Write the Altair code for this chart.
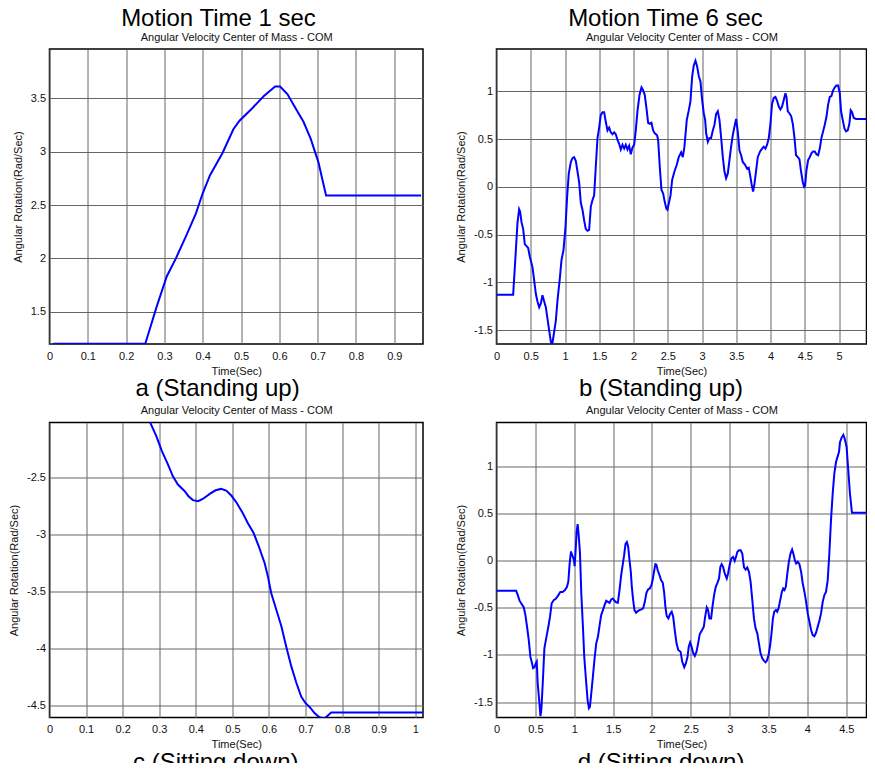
import altair as alt
import pandas as pd

FONT = "Liberation Sans"
BLUE = "#0000ff"

# ---------------- panel a : Motion Time 1 sec, standing up ----------------
a_t = [0.01, 0.25, 0.28, 0.306, 0.33, 0.359, 0.382, 0.40, 0.419, 0.452, 0.48, 0.496,
       0.53, 0.559, 0.589, 0.602, 0.621, 0.637, 0.663, 0.682, 0.702, 0.722, 0.97]
a_v = [1.2, 1.2, 1.55, 1.83, 2.0, 2.23, 2.42, 2.61, 2.78, 2.99, 3.21, 3.29,
       3.41, 3.52, 3.61, 3.61, 3.54, 3.44, 3.28, 3.12, 2.90, 2.59, 2.59]

# ---------------- panel b : Motion Time 6 sec, standing up ----------------
b_t = [0, 0.243, 0.277, 0.306, 0.33, 0.345, 0.365, 0.389, 0.413, 0.438, 0.462, 0.486,
       0.525, 0.55, 0.574, 0.598, 0.623, 0.647, 0.671, 0.696, 0.72, 0.744, 0.768, 0.793,
       0.812, 0.837, 0.866, 0.89, 0.924, 0.948, 0.978, 1.007, 1.031, 1.055, 1.085, 1.109,
       1.133, 1.158, 1.182, 1.206, 1.231, 1.255, 1.279, 1.303, 1.328, 1.352, 1.376, 1.40,
       1.425, 1.449, 1.474, 1.498, 1.522, 1.547, 1.571, 1.595, 1.62, 1.644, 1.668, 1.693,
       1.717, 1.741, 1.766, 1.79, 1.814, 1.839, 1.863, 1.887, 1.911, 1.936, 1.96, 1.984,
       2.009, 2.033, 2.057, 2.087, 2.116, 2.14, 2.164, 2.189, 2.213, 2.237, 2.262, 2.286,
       2.31, 2.344, 2.359, 2.383, 2.407, 2.432, 2.456, 2.48, 2.495, 2.54, 2.563, 2.597,
       2.631, 2.66, 2.695, 2.719, 2.743, 2.777, 2.806, 2.83, 2.855, 2.879, 2.904, 2.928,
       2.952, 2.977, 3.001, 3.025, 3.045, 3.06, 3.084, 3.108, 3.132, 3.157, 3.181, 3.205,
       3.23, 3.254, 3.278, 3.303, 3.327, 3.351, 3.376, 3.40, 3.424, 3.448, 3.473, 3.497,
       3.521, 3.546, 3.57, 3.594, 3.628, 3.657, 3.682, 3.706, 3.73, 3.745, 3.765, 3.789,
       3.813, 3.847, 3.876, 3.90, 3.925, 3.949, 3.974, 3.998, 4.022, 4.047, 4.071, 4.095,
       4.12, 4.144, 4.168, 4.193, 4.217, 4.232, 4.251, 4.275, 4.30, 4.324, 4.348, 4.372,
       4.397, 4.421, 4.445, 4.47, 4.489, 4.504, 4.523, 4.548, 4.572, 4.596, 4.621, 4.645,
       4.669, 4.694, 4.718, 4.742, 4.767, 4.791, 4.815, 4.84, 4.864, 4.888, 4.913, 4.937,
       4.961, 4.986, 5.01, 5.029, 5.053, 5.078, 5.102, 5.126, 5.15, 5.17, 5.19, 5.214,
       5.248, 5.48]
b_v = [-1.13, -1.13, -0.73, -0.38, -0.234, -0.26, -0.37, -0.44, -0.60, -0.62, -0.64, -0.73,
       -0.84, -0.98, -1.12, -1.20, -1.26, -1.22, -1.135, -1.20, -1.26, -1.38, -1.50, -1.62,
       -1.65, -1.54, -1.40, -1.19, -0.96, -0.77, -0.66, -0.42, -0.10, 0.14, 0.26, 0.30,
       0.31, 0.27, 0.16, 0.05, -0.17, -0.24, -0.35, -0.44, -0.46, -0.45, -0.21, -0.14,
       -0.09, 0.21, 0.51, 0.62, 0.75, 0.78, 0.78, 0.68, 0.59, 0.62, 0.57, 0.55,
       0.57, 0.55, 0.49, 0.45, 0.39, 0.44, 0.40, 0.44, 0.39, 0.43, 0.34, 0.41,
       0.44, 0.59, 0.79, 0.96, 1.04, 1.01, 0.96, 0.82, 0.67, 0.66, 0.67, 0.59,
       0.56, 0.54, 0.49, 0.21, -0.03, -0.07, -0.16, -0.23, -0.24, -0.09, 0.07, 0.16,
       0.23, 0.31, 0.36, 0.31, 0.42, 0.70, 0.80, 0.89, 1.15, 1.27, 1.32, 1.26,
       1.16, 1.10, 0.91, 0.77, 0.70, 0.56, 0.47, 0.51, 0.51, 0.59, 0.65, 0.76,
       0.79, 0.70, 0.52, 0.31, 0.16, 0.09, 0.14, 0.28, 0.42, 0.54, 0.63, 0.71,
       0.58, 0.38, 0.33, 0.26, 0.23, 0.19, 0.20, 0.10, 0.0, -0.05, 0.03, 0.17,
       0.31, 0.37, 0.40, 0.42, 0.40, 0.44, 0.51, 0.66, 0.87, 0.93, 0.94, 0.90,
       0.84, 0.81, 0.84, 0.91, 0.98, 0.94, 0.79, 0.77, 0.74, 0.66, 0.52, 0.33,
       0.31, 0.29, 0.16, 0.05, 0.0, 0.01, 0.17, 0.28, 0.31, 0.35, 0.37, 0.37,
       0.34, 0.33, 0.40, 0.51, 0.58, 0.65, 0.73, 0.86, 0.94, 0.95, 1.01, 1.04,
       1.06, 1.06, 0.98, 0.79, 0.70, 0.61, 0.58, 0.59, 0.66, 0.80, 0.78, 0.72,
       0.71, 0.71]

# ---------------- panel c : sitting down (1 sec) ----------------
c_t = [0.275, 0.292, 0.307, 0.324, 0.337, 0.351, 0.369, 0.38, 0.392, 0.406, 0.419, 0.438,
       0.454, 0.469, 0.483, 0.497, 0.512, 0.527, 0.542, 0.558, 0.572, 0.588, 0.597, 0.606,
       0.62, 0.634, 0.647, 0.661, 0.675, 0.688, 0.70, 0.711, 0.725, 0.738, 0.752, 0.77,
       1.02]
c_v = [-2.02, -2.14, -2.27, -2.39, -2.49, -2.564, -2.62, -2.666, -2.70, -2.71, -2.69, -2.646,
       -2.614, -2.602, -2.617, -2.66, -2.725, -2.807, -2.90, -2.988, -3.104, -3.25, -3.367, -3.513,
       -3.659, -3.805, -3.98, -4.155, -4.30, -4.418, -4.477, -4.51, -4.565, -4.60, -4.61, -4.558,
       -4.558]

# ---------------- panel d : sitting down (longer) ----------------
d_t = [0, 0.252, 0.274, 0.295, 0.325, 0.351, 0.372, 0.393, 0.415, 0.436, 0.458, 0.47,
       0.488, 0.505, 0.518, 0.53, 0.552, 0.565, 0.577, 0.595, 0.616, 0.642, 0.667, 0.689,
       0.71, 0.736, 0.766, 0.796, 0.821, 0.851, 0.881, 0.907, 0.924, 0.941, 0.958, 0.975,
       0.997, 1.005, 1.018, 1.031, 1.044, 1.056, 1.074, 1.091, 1.112, 1.129, 1.151, 1.172,
       1.189, 1.202, 1.219, 1.24, 1.262, 1.283, 1.305, 1.33, 1.347, 1.369, 1.39, 1.411,
       1.433, 1.454, 1.476, 1.497, 1.518, 1.54, 1.561, 1.583, 1.604, 1.625, 1.642, 1.66,
       1.677, 1.694, 1.711, 1.728, 1.741, 1.758, 1.775, 1.796, 1.818, 1.839, 1.865, 1.886,
       1.908, 1.929, 1.95, 1.972, 1.993, 2.01, 2.027, 2.044, 2.057, 2.074, 2.096, 2.117,
       2.139, 2.156, 2.173, 2.19, 2.211, 2.233, 2.254, 2.273, 2.295, 2.316, 2.338, 2.368,
       2.389, 2.415, 2.436, 2.457, 2.474, 2.491, 2.509, 2.53, 2.551, 2.573, 2.594, 2.615,
       2.645, 2.667, 2.684, 2.705, 2.722, 2.739, 2.761, 2.778, 2.799, 2.821, 2.842, 2.863,
       2.88, 2.897, 2.915, 2.936, 2.962, 2.979, 3.0, 3.021, 3.043, 3.064, 3.081, 3.098,
       3.12, 3.141, 3.162, 3.184, 3.205, 3.226, 3.248, 3.269, 3.291, 3.312, 3.333, 3.355,
       3.376, 3.397, 3.419, 3.44, 3.462, 3.479, 3.5, 3.521, 3.538, 3.556, 3.573, 3.594,
       3.611, 3.628, 3.65, 3.671, 3.688, 3.705, 3.722, 3.739, 3.761, 3.782, 3.803, 3.821,
       3.838, 3.855, 3.876, 3.897, 3.919, 3.94, 3.962, 3.983, 4.004, 4.026, 4.047, 4.068,
       4.09, 4.111, 4.132, 4.154, 4.175, 4.197, 4.218, 4.239, 4.261, 4.282, 4.303, 4.325,
       4.346, 4.368, 4.389, 4.406, 4.419, 4.44, 4.462, 4.479, 4.504, 4.526, 4.547, 4.573,
       4.838]
d_v = [-0.318, -0.318, -0.364, -0.42, -0.46, -0.495, -0.576, -0.70, -0.84, -1.02, -1.09, -1.14,
       -1.13, -1.09, -1.07, -1.30, -1.51, -1.65, -1.58, -1.30, -0.93, -0.81, -0.70, -0.59,
       -0.45, -0.417, -0.40, -0.364, -0.33, -0.33, -0.31, -0.276, -0.22, -0.03, 0.10, 0.06,
       0.007, -0.057, 0.11, 0.31, 0.39, 0.29, 0.08, -0.35, -0.70, -1.02, -1.26, -1.48,
       -1.565, -1.55, -1.41, -1.23, -1.035, -0.876, -0.806, -0.664, -0.576, -0.523, -0.47, -0.424,
       -0.435, -0.445, -0.41, -0.40, -0.424, -0.44, -0.445, -0.31, -0.15, -0.035, 0.06, 0.18,
       0.20, 0.15, 0.007, -0.117, -0.276, -0.417, -0.523, -0.55, -0.534, -0.523, -0.516, -0.505,
       -0.435, -0.34, -0.304, -0.293, -0.258, -0.198, -0.11, -0.035, -0.04, -0.10, -0.15, -0.205,
       -0.233, -0.33, -0.488, -0.587, -0.611, -0.565, -0.54, -0.594, -0.75, -0.876, -0.947, -0.965,
       -1.07, -1.13, -1.09, -1.02, -0.91, -0.866, -0.91, -0.98, -1.01, -0.965, -0.876, -0.777,
       -0.735, -0.70, -0.594, -0.495, -0.523, -0.611, -0.611, -0.488, -0.364, -0.276, -0.233, -0.187,
       -0.064, -0.035, -0.064, -0.134, -0.187, -0.134, -0.04, 0.025, 0.042, 0.0, 0.042, 0.095,
       0.113, 0.113, 0.078, -0.07, -0.092, -0.07, -0.117, -0.223, -0.417, -0.611, -0.717, -0.77,
       -0.876, -0.982, -1.035, -1.06, -1.078, -1.06, -1.0, -0.894, -0.77, -0.611, -0.54, -0.523,
       -0.54, -0.505, -0.417, -0.33, -0.293, -0.31, -0.276, -0.152, -0.01, 0.078, 0.12, 0.07,
       0.007, -0.028, -0.01, -0.035, -0.117, -0.24, -0.33, -0.435, -0.558, -0.646, -0.735, -0.788,
       -0.80, -0.763, -0.70, -0.636, -0.558, -0.435, -0.364, -0.33, -0.205, 0.078, 0.43, 0.714,
       0.926, 1.05, 1.11, 1.155, 1.26, 1.31, 1.34, 1.30, 1.21, 0.96, 0.714, 0.51,
       0.51]

# ---------------- axes: domains and tick values ----------------
a_xdom, a_ydom = [0, 0.975], [1.197, 3.9625]
b_xdom, b_ydom = [0, 5.40], [-1.645, 1.442]
c_xdom, c_ydom = [0, 1.021], [-4.602, -2.021]
d_xdom, d_ydom = [0, 4.76], [-1.664, 1.47]

a_xticks = [0, 0.1, 0.2, 0.3, 0.4, 0.5, 0.6, 0.7, 0.8, 0.9]
a_yticks = [1.5, 2, 2.5, 3, 3.5]
b_xticks = [0, 0.5, 1, 1.5, 2, 2.5, 3, 3.5, 4, 4.5, 5]
b_yticks = [-1.5, -1, -0.5, 0, 0.5, 1]
c_xticks = [0, 0.1, 0.2, 0.3, 0.4, 0.5, 0.6, 0.7, 0.8, 0.9, 1]
c_yticks = [-4.5, -4, -3.5, -3, -2.5]
d_xticks = [0, 0.5, 1, 1.5, 2, 2.5, 3, 3.5, 4, 4.5]
d_yticks = [-1.5, -1, -0.5, 0, 0.5, 1]

SUBTITLE = "Angular Velocity Center of Mass - COM"
XTITLE = "Time(Sec)"
YTITLE = "Angular Rotation(Rad/Sec)"

LABEL_EXPR = "replace(datum.label, '\u2212', '-')"


def panel(t, v, xdom, ydom, xticks, yticks, width, caption, cap_offset, motion=None):
    df = pd.DataFrame({"t": t, "v": v})
    base = alt.Chart(df)
    xs = alt.Scale(domain=xdom, nice=False, zero=False)
    ys = alt.Scale(domain=ydom, nice=False, zero=False)
    grid = dict(grid=True, gridColor="#666666", gridWidth=1)
    txt = dict(labelFont=FONT, titleFont=FONT, labelColor="#111111", titleColor="#111111",
               titleFontWeight="normal", labelFontSize=11, titleFontSize=11,
               ticks=False, domain=False, labelFlush=False, format="~g",
               labelExpr=LABEL_EXPR)
    line = base.mark_line(color=BLUE, strokeWidth=2, clip=True).encode(
        x=alt.X("t:Q", scale=xs,
                axis=alt.Axis(values=xticks, title=XTITLE, labelPadding=6,
                              titlePadding=4, **grid, **txt)),
        y=alt.Y("v:Q", scale=ys,
                axis=alt.Axis(values=yticks, title=YTITLE, labelPadding=4,
                              titlePadding=7, **grid, **txt)),
    )
    top_small = base.mark_line(opacity=0, clip=True).encode(
        x=alt.X("t:Q", scale=xs,
                axis=alt.Axis(orient="top", title=SUBTITLE, labels=False, ticks=False,
                              domain=False, grid=False, titleFont=FONT, titleFontSize=11,
                              titleFontWeight="normal", titleColor="#111111",
                              titlePadding=7, minExtent=0, maxExtent=0)),
        y=alt.Y("v:Q", scale=ys, axis=None),
    )
    layers = [line, top_small]
    if motion is not None:
        layers.append(base.mark_line(opacity=0, clip=True).encode(
            x=alt.X("t:Q", scale=xs,
                    axis=alt.Axis(orient="top", title=motion, labels=False, ticks=False,
                                  domain=False, grid=False, titleFont=FONT, titleFontSize=24,
                                  titleFontWeight="normal", titleColor="#000000",
                                  titlePadding=18.5, titleX=168.5, titleAlign="center",
                                  minExtent=0, maxExtent=0)),
            y=alt.Y("v:Q", scale=ys, axis=None),
        ))
    return alt.layer(*layers).resolve_axis(x="independent", y="independent").properties(
        width=width, height=295,
        title=alt.Title(caption, orient="bottom", frame="bounds", anchor="middle",
                        font=FONT, fontSize=24, fontWeight="normal", color="#000000",
                        offset=cap_offset),
    )


pa = panel(a_t, a_v, a_xdom, a_ydom, a_xticks, a_yticks, 373.5, "a (Standing up)", 1,
           motion="Motion Time 1 sec")
pb = panel(b_t, b_v, b_xdom, b_ydom, b_xticks, b_yticks, 370, "b (Standing up)", 1,
           motion="Motion Time 6 sec")
pc = panel(c_t, c_v, c_xdom, c_ydom, c_xticks, c_yticks, 373.5, "c (Sitting down)", 1)
pd_ = panel(d_t, d_v, d_xdom, d_ydom, d_xticks, d_yticks, 370, "d (Sitting down)", 1)

chart = alt.concat(
    pa, pb, pc, pd_, columns=2, bounds="flush",
    spacing=alt.RowColnumber(row=78.5, column=73),
).properties(
    autosize=alt.AutoSizeParams(type="none"),
    padding={"left": 41.5, "top": 41, "right": 817.5, "bottom": 714},
    background="white",
).configure_view(stroke="#000000", strokeWidth=1.5, fill="white")

chart.save("out.html", embed_options={"renderer": "svg", "actions": False})
